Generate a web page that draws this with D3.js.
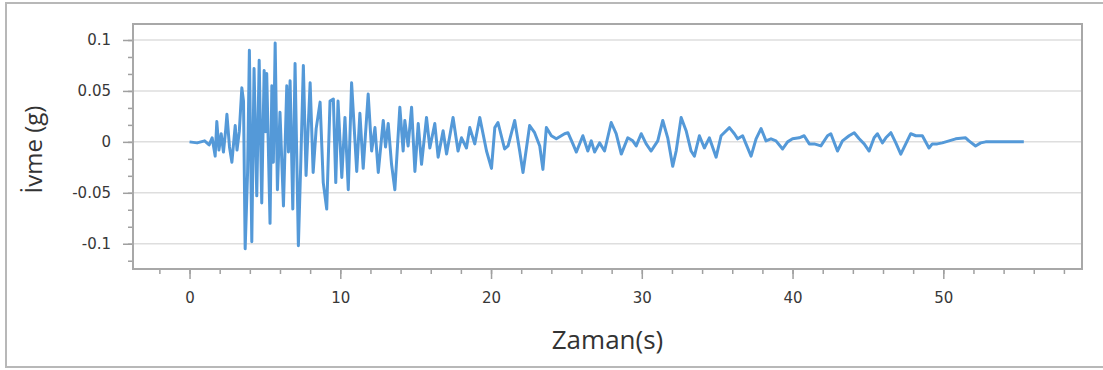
<!DOCTYPE html>
<html>
<head>
<meta charset="utf-8">
<script src="https://cdn.jsdelivr.net/npm/d3@7"></script>
<style>
  html, body { margin: 0; padding: 0; background: #ffffff; }
  .tick-label { font-family: "DejaVu Sans", sans-serif; font-size: 15px; fill: #383838; }
  .axis-title { font-family: "Open Sans", sans-serif; fill: #333333; }
</style>
</head>
<body>
<div id="chart"></div>
<script>
// acceleration record: [time (s), acceleration (g)]
var accel = [
  [0, 0], [0.5, -0.001], [1.0, 0.001], [1.3, -0.003], [1.5, 0.004], [1.7, -0.014], [1.81, 0.020],
  [1.95, -0.008], [2.1, 0.008], [2.25, -0.010], [2.4, 0.012], [2.48, 0.027], [2.65, -0.005],
  [2.81, -0.020], [3.03, 0.016], [3.15, -0.008], [3.3, 0.010], [3.47, 0.053], [3.58, 0.040],
  [3.69, -0.105], [3.85, -0.030], [3.97, 0.090], [4.13, -0.098], [4.28, 0.072], [4.46, -0.053],
  [4.62, 0.080], [4.79, -0.060], [4.95, 0.070], [5.04, 0.010], [5.12, 0.067], [5.34, -0.080],
  [5.46, 0.055], [5.56, -0.020], [5.68, 0.097], [5.83, -0.047], [6.0, 0.029], [6.23, -0.063],
  [6.45, 0.055], [6.56, -0.010], [6.67, 0.060], [6.85, -0.066], [7.0, 0.077], [7.22, -0.102],
  [7.38, -0.020], [7.55, 0.075], [7.73, -0.033], [8.0, 0.058], [8.2, -0.030], [8.4, 0.013],
  [8.66, 0.039], [8.87, -0.040], [9.1, -0.066], [9.32, 0.040], [9.54, 0.042], [9.7, -0.040],
  [9.85, 0.040], [10.1, -0.035], [10.31, 0.024], [10.53, -0.047], [10.75, 0.058], [11.09, -0.029],
  [11.3, 0.028], [11.52, -0.026], [11.85, 0.047], [12.08, -0.009], [12.3, 0.014], [12.52, -0.030],
  [12.85, 0.021], [13.0, -0.005], [13.18, 0.018], [13.4, -0.022], [13.62, -0.047], [13.95, 0.034],
  [14.17, -0.009], [14.28, 0.021], [14.5, -0.004], [14.73, 0.034], [14.95, -0.029], [15.17, 0.018],
  [15.39, -0.022], [15.72, 0.024], [15.94, -0.006], [16.27, 0.018], [16.49, -0.015], [16.82, 0.011],
  [17.05, -0.012], [17.48, 0.024], [17.81, -0.009], [18.04, 0.004], [18.37, -0.006], [18.59, 0.014],
  [18.92, -0.002], [19.25, 0.024], [19.7, -0.009], [20.03, -0.026], [20.25, 0.014], [20.46, 0.019],
  [20.9, -0.007], [21.13, -0.004], [21.57, 0.021], [21.9, -0.009], [22.12, -0.030], [22.56, 0.016],
  [22.89, 0.009], [23.23, -0.004], [23.44, -0.027], [23.67, 0.014], [24.0, 0.006], [24.33, 0.003],
  [24.88, 0.008], [25.1, 0.009], [25.43, -0.002], [25.66, -0.010], [26.09, 0.006], [26.42, -0.009],
  [26.65, 0.001], [26.87, -0.010], [27.2, -0.001], [27.53, -0.009], [27.97, 0.019], [28.3, 0.008],
  [28.64, -0.012], [29.07, 0.004], [29.4, 0.001], [29.63, -0.004], [29.96, 0.008], [30.29, -0.002],
  [30.62, -0.009], [31.06, 0.001], [31.39, 0.021], [31.72, 0.004], [32.05, -0.024], [32.28, -0.009],
  [32.61, 0.024], [32.94, 0.011], [33.27, -0.009], [33.49, -0.014], [33.82, 0.006], [34.15, -0.006],
  [34.48, 0.004], [34.93, -0.015], [35.26, 0.006], [35.81, 0.014], [36.14, 0.008], [36.36, 0.003],
  [36.69, 0.006], [36.91, -0.002], [37.25, -0.014], [37.58, 0.003], [37.91, 0.013], [38.24, 0.001],
  [38.57, 0.003], [38.9, 0.001], [39.34, -0.007], [39.67, 0.000], [40.0, 0.003], [40.44, 0.004],
  [40.77, 0.006], [41.11, -0.002], [41.44, -0.002], [41.88, -0.004], [42.32, 0.006], [42.54, 0.008],
  [42.98, -0.009], [43.31, 0.001], [43.75, 0.006], [44.09, 0.009], [44.42, 0.003], [44.75, -0.002],
  [45.08, -0.009], [45.41, 0.004], [45.63, 0.008], [45.96, -0.001], [46.19, 0.004], [46.52, 0.009],
  [46.85, -0.001], [47.18, -0.012], [47.51, -0.002], [47.84, 0.008], [48.17, 0.006], [48.61, 0.006],
  [49.05, -0.006], [49.27, -0.002], [49.6, -0.002], [49.93, -0.001], [50.38, 0.001], [50.82, 0.003],
  [51.48, 0.004], [51.7, 0.001], [52.14, -0.004], [52.48, -0.001], [52.81, 0], [53.47, 0],
  [54.35, 0], [55.34, 0]
];

var xTicks = [0, 10, 20, 30, 40, 50];
var yTicks = [0.1, 0.05, 0, -0.05, -0.1];
var yTickLabels = ["0.1", "0.05", "0", "-0.05", "-0.1"];
var xTitle = "Zaman(s)";
var yTitle = "İvme (g)";

(function() {
  var width = 1103,
      height = 370,
      left = 133, top = 24, right = 1082, bottom = 269;

  var svg = d3.select("#chart")
        .append("svg")
        .attr("width", width)
        .attr("height", height);

  var x = d3.scaleLinear().domain([-3.75, 59.2]).range([left, right]);
  var y = d3.scaleLinear().domain([-0.1248, 0.1157]).range([bottom, top]);

  // outer frame (right side runs off the picture)
  svg.append("rect")
    .attr("x", 6).attr("y", 3)
    .attr("width", 1110).attr("height", 364)
    .attr("fill", "none")
    .attr("stroke", "#b8b8b8")
    .attr("stroke-width", 2);

  // horizontal grid
  svg.selectAll(".grid")
    .data(yTicks)
    .enter().append("line")
    .attr("class", "grid")
    .attr("x1", left).attr("x2", right)
    .attr("y1", function(d) { return y(d); })
    .attr("y2", function(d) { return y(d); })
    .attr("stroke", "#dedede")
    .attr("stroke-width", 1.5);

  // minor ticks: y every 0.05/3, x every 2 s
  var yMinor = d3.range(-7, 7).map(function(i) { return i * 0.05 / 3; })
        .filter(function(v) { return v > y.domain()[0] && v < y.domain()[1]; });
  var xMinor = d3.range(-2, 59, 2);

  function greyTicks(g) {
    g.select(".domain").remove();
    g.selectAll("line").attr("stroke", "#a0a0a0").attr("stroke-width", 1.5);
    g.selectAll("text").attr("class", "tick-label").attr("fill", null);
  }

  svg.append("g").attr("transform", "translate(" + left + ",0)")
    .call(d3.axisLeft(y).tickValues(yMinor).tickSize(5).tickFormat(""))
    .call(greyTicks);

  svg.append("g").attr("transform", "translate(" + left + ",0)")
    .call(d3.axisLeft(y).tickValues(yTicks).tickSize(10).tickPadding(12)
      .tickFormat(function(d, i) { return yTickLabels[i]; }))
    .call(greyTicks);

  svg.append("g").attr("transform", "translate(0," + bottom + ")")
    .call(d3.axisBottom(x).tickValues(xMinor).tickSize(5).tickFormat(""))
    .call(greyTicks);

  svg.append("g").attr("transform", "translate(0," + bottom + ")")
    .call(d3.axisBottom(x).tickValues(xTicks).tickSize(10).tickPadding(13).tickFormat(d3.format("d")))
    .call(greyTicks);

  // plot frame
  svg.append("rect")
    .attr("x", left).attr("y", top)
    .attr("width", right - left).attr("height", bottom - top)
    .attr("fill", "none")
    .attr("stroke", "#a8a8a8")
    .attr("stroke-width", 2);

  var line = d3.line()
    .x(function(d) { return x(d[0]); })
    .y(function(d) { return y(d[1]); });

  svg.append("path")
    .datum(accel)
    .attr("d", line)
    .attr("fill", "none")
    .attr("stroke", "#5499d8")
    .attr("stroke-width", 3)
    .attr("stroke-linejoin", "round");

  svg.append("text")
    .attr("class", "axis-title")
    .attr("x", (left + right) / 2)
    .attr("y", 349)
    .attr("text-anchor", "middle")
    .attr("font-size", 26)
    .text(xTitle);

  svg.append("text")
    .attr("class", "axis-title")
    .attr("transform", "translate(42," + ((top + bottom) / 2 + 3) + ")rotate(-90)")
    .attr("text-anchor", "middle")
    .attr("font-size", 24)
    .text(yTitle);
})();
</script>
</body>
</html>
